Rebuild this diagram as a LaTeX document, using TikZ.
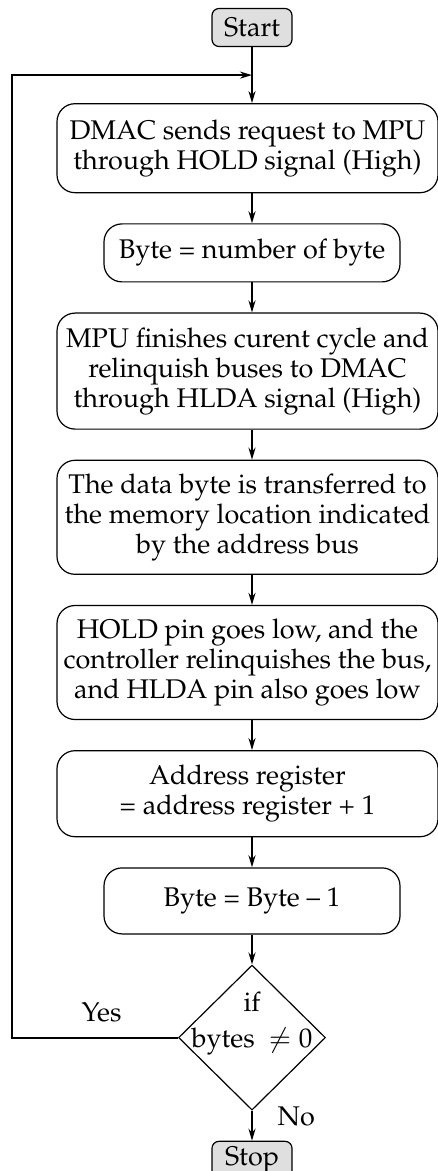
\documentclass[tikz,border=0pt]{standalone}
\usepackage[T1]{fontenc}
\usepackage{mathpazo}
\usetikzlibrary{shapes.geometric,arrows.meta,positioning}

\begin{document}
\begin{tikzpicture}[
    font=\fontsize{13.5}{15}\selectfont,
    terminal/.style={rectangle, draw, line width=0.6pt, rounded corners=3.5pt, fill=gray!25, minimum width=40pt, minimum height=19pt, inner sep=1pt},
    process/.style={rectangle, draw, line width=0.6pt, rounded corners=9pt, align=center, inner xsep=2pt, inner ysep=4pt},
    wide/.style={process, minimum width=190.5pt},
    narrow/.style={process, minimum width=148pt},
    decision/.style={diamond, draw, line width=0.6pt, aspect=1, minimum width=73.5pt, minimum height=72.5pt, inner sep=0pt},
    arrow/.style={-{Stealth[length=6pt, width=3.5pt]}, line width=1pt}
]
\useasboundingbox (0,0) rectangle (219pt,-585.5pt);

% Terminals and process steps
\node[terminal] (start) at (126pt,-13.75pt) {Start};
\coordinate[below=14pt of start] (join);
\node[wide, below=28pt of start, xshift=-2.25pt, minimum height=44.5pt] (dmac) {DMAC sends request to MPU\\through HOLD signal (High)};
\node[narrow, below=15pt of dmac, xshift=2.25pt, minimum height=29pt] (byte) {Byte = number of byte};
\node[wide, below=15pt of byte, xshift=-2.25pt, minimum height=58pt] (mpu) {MPU finishes curent cycle and\\relinquish buses to DMAC\\through HLDA signal (High)};
\node[wide, below=15pt of mpu, minimum height=57pt] (data) {The data byte is transferred to\\the memory location indicated\\by the address bus};
\node[wide, below=15pt of data, minimum height=57pt] (hold) {HOLD pin goes low, and the\\controller relinquishes the bus,\\and HLDA pin also goes low};
\node[wide, below=15pt of hold, minimum height=43pt] (addr) {Address register\\= address register + 1};
\node[narrow, below=15pt of addr, xshift=2.25pt, minimum height=33pt] (dec) {Byte = Byte -- 1};
\node[decision, below=15pt of dec, label={[align=center, yshift=7pt]center:{if\\[3pt]bytes~~$\neq 0$}}] (cond) {};
\node[terminal, below=15pt of cond] (stop) {Stop};
\coordinate (loop) at (6pt,0);

% Connectors
\draw[arrow] (start) -- (dmac.north -| start);
\draw[arrow] (dmac.south -| start) -- (byte);
\draw[arrow] (byte) -- (mpu.north -| start);
\draw[arrow] (mpu.south -| start) -- (data.north -| start);
\draw[arrow] (data.south -| start) -- (hold.north -| start);
\draw[arrow] (hold.south -| start) -- (addr.north -| start);
\draw[arrow] (addr.south -| start) -- (dec);
\draw[arrow] (dec) -- (cond);
\draw[arrow] (cond) -- (stop) node[pos=0.2, right=9pt]{No};
\draw[arrow] (cond.west) -- (cond.west -| loop) node[pos=0.46, above=4pt]{Yes} |- (join);

\end{tikzpicture}
\end{document}
